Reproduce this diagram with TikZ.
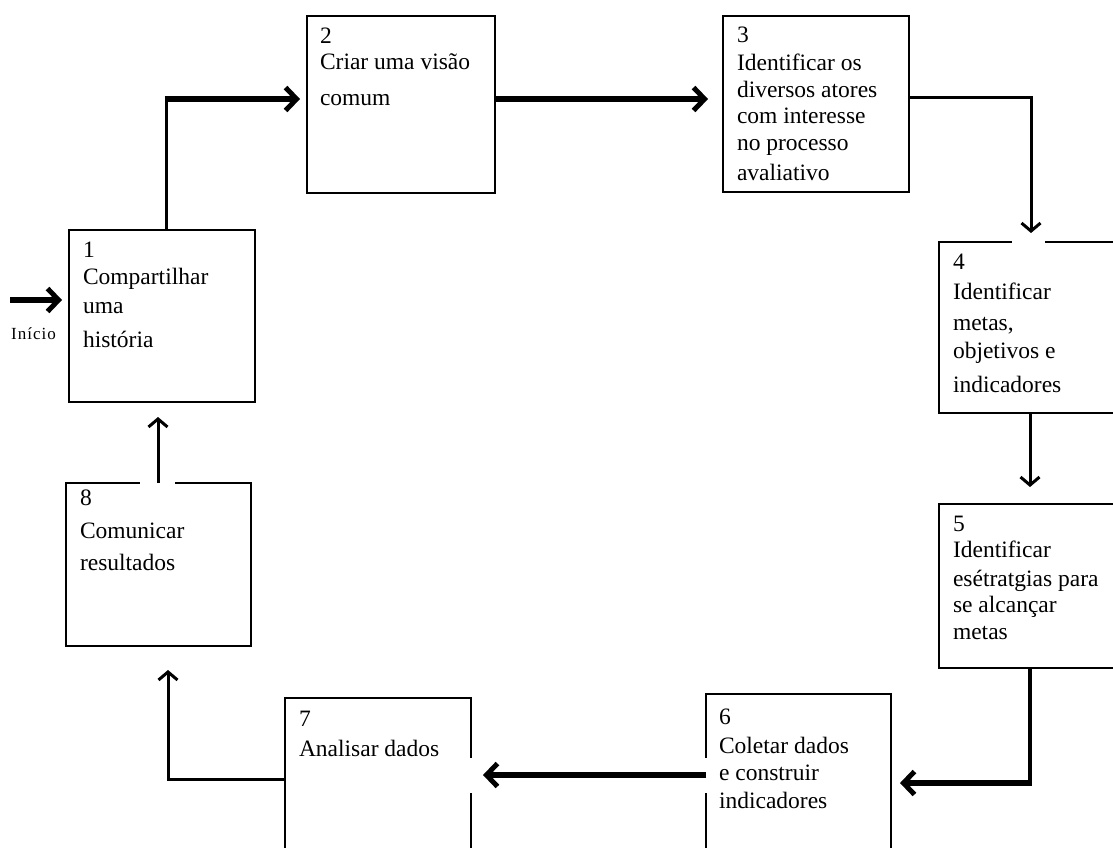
\documentclass[tikz,border=0pt]{standalone}
\usepackage{fontspec}
\setmainfont{Liberation Serif}
\newfontfamily\inifont{Liberation Serif}[LetterSpace=6]
\usetikzlibrary{arrows.meta,calc}
\begin{document}
\begin{tikzpicture}[x=1pt,y=-1pt,
  box/.style={draw=black, line width=2pt, rectangle, inner sep=0pt, outer sep=0pt, anchor=north west},
  txt/.style={anchor=north west, inner sep=0pt, outer sep=0pt, align=left, font=\fontsize{23.5pt}{27pt}\selectfont},
  heavy/.style={line width=6pt, -{Straight Barb[length=11pt,width=23pt,line width=5pt]}},
  medium/.style={line width=3pt, -{Straight Barb[length=8pt,width=19pt,line width=3pt]}},
  plainline/.style={line width=3pt},
  gap/.style={white}
]
\useasboundingbox (0,0) rectangle (1113,847);
\clip (0,0) rectangle (1113,847);
\fill[white] (0,0) rectangle (1113,847);

% boxes
\node[box, minimum width=186pt, minimum height=172pt] (b1) at (69,230) {};
\node[box, minimum width=188pt, minimum height=177pt] (b2) at (307,16) {};
\node[box, minimum width=186pt, minimum height=176pt] (b3) at (723,16) {};
\node[box, minimum width=190pt, minimum height=171pt] (b4) at (939,242) {};
\node[box, minimum width=190pt, minimum height=164pt] (b5) at (939,504) {};
\node[box, minimum width=185pt, minimum height=170pt] (b6) at (706,694) {};
\node[box, minimum width=186pt, minimum height=166pt] (b7) at (285,698) {};
\node[box, minimum width=185pt, minimum height=163pt] (b8) at (66,483) {};

% small breaks in the borders
\fill[gap] (1012,240) rectangle (1045,245);
\fill[gap] (140,481) rectangle (175,485);
\fill[gap] (703,758) rectangle (709,793);
\fill[gap] (468,758) rectangle (474,793);

% texts
\node[txt] (t1) at ($(b1.north west)+(14,12)$) {1\\Compartilhar\\[2pt]uma\\[7pt]história};
\node[txt] (t2) at ($(b2.north west)+(13,12)$) {2\\[-1pt]Criar uma visão\\[9pt]comum};
\node[txt] (t3) at ($(b3.north west)+(14,11)$) {3\\[1pt]Identificar os\\diversos atores\\[-1pt]com interesse\\no processo\\[3pt]avaliativo};
\node[txt] (t4) at ($(b4.north west)+(14,12)$) {4\\[3pt]Identificar\\[4pt]metas,\\[1pt]objetivos e\\[7pt]indicadores};
\node[txt] (t5) at ($(b5.north west)+(14,12)$) {5\\[-1pt]Identificar\\[2pt]esétratgias para\\[-1pt]se alcançar\\metas};
\node[txt] (t6) at ($(b6.north west)+(13,15)$) {6\\[2pt]Coletar dados\\e construir\\[1pt]indicadores};
\node[txt] (t7) at ($(b7.north west)+(14,13)$) {7\\[3pt]Analisar dados};
\node[txt] (t8) at ($(b8.north west)+(14,7)$) {8\\[6pt]Comunicar\\[5pt]resultados};

% start
\coordinate (start) at (10,300);
\node[anchor=base west, inner sep=0pt, font=\inifont\fontsize{17pt}{20pt}\selectfont] (ini) at (11,339) {Início};
\draw[heavy] (start) -- ($(b1.north west)+(-7,70)$);

% 1 -> 2
\coordinate (c12) at ($(b1.north)+(4,-131)$);
\draw[plainline] (b1.north -| c12) -- ($(c12)+(0,-3)$);
\draw[heavy] ($(c12)+(-1.5,0)$) -- ($(b2.north west)+(-7,83)$);

% 2 -> 3
\draw[heavy] ($(b2.north east)+(0,83)$) -- ($(b3.north west)+(-15,83)$);

% 3 -> 4
\draw[medium] ($(b3.north east)+(0,81)$) -| ($(b4.north west)+(92,-9)$);

% 4 -> 5
\draw[medium] ($(b4.south west)+(91,0)$) -- ($(b5.north west)+(91,-17)$);

% 5 -> 6
\coordinate (c56) at ($(b5.south west)+(91,115)$);
\draw[line width=4pt] ($(b5.south west)+(91,0)$) -- ($(c56)+(0,3)$);
\draw[heavy] ($(c56)+(2,0)$) -- ($(b6.north east)+(9,89)$);

% 6 -> 7
\draw[heavy] ($(b6.north west)+(0,81)$) -- ($(b7.north east)+(12,77)$);

% 7 -> 8
\draw[medium] ($(b7.north west)+(0,81)$) -| ($(b8.south west)+(102,24)$);

% 8 -> 1
\draw[medium] ($(b8.north west)+(92,0)$) -- ($(b1.south west)+(89,15)$);
\end{tikzpicture}
\end{document}
